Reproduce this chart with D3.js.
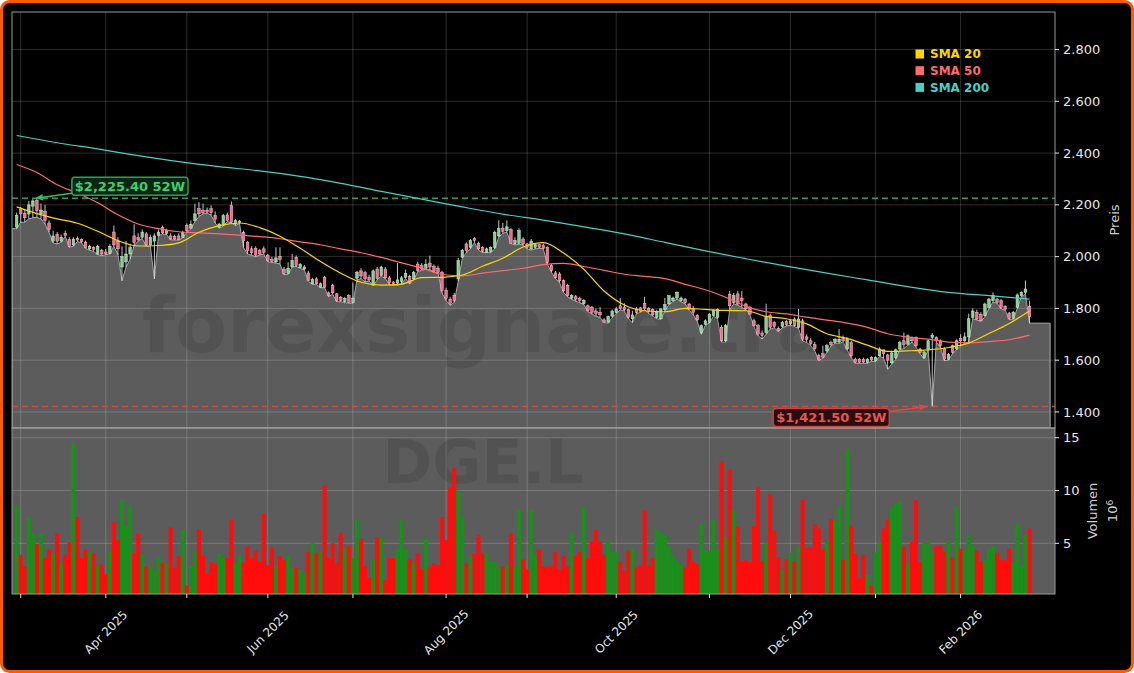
<!DOCTYPE html>
<meta charset="utf-8">
<script src="https://d3js.org/d3.v7.min.js"></script>
<style>
  body { margin: 0; background: #ffffff; }
  svg { display: block; font-family: "DejaVu Sans", sans-serif; }
</style>
<div id="chart"></div>
<script>

  // ---- data: one candle per trading day, index 0 = 28 Feb 2025 ----
  var opens = [
    2114,2182,2168,2165,2195,2217,2165,2175,2130,2060, 2085,2060,2090,2066,2045,2070,2066,2056,2030,2036,
    2010,2025,2018,2012,2095,2060,1960,1980,2010,2080, 2075,2075,2088,2045,2060,2082,2112,2090,2080,2078,
    2080,2075,2120,2110,2140,2185,2178,2180,2185,2160, 2114,2122,2161,2197,2126,2132,2094,2056,2030,2032,
    2023,2030,2004,1990,1980,2000,1952,1935,1960,1997, 1958,1952,1937,1895,1914,1882,1920,1860,1888,1856,
    1843,1826,1849,1823,1917,1945,1938,1920,1890,1952, 1927,1952,1918,1902,1898,1905,1920,1924,1914,1971,
    1965,1955,1975,1962,1955,1939,1870,1836,1850,1914, 1998,2049,2036,2070,2052,2036,2017,2020,2036,2080,
    2110,2100,2104,2050,2052,2068,2049,2030,2036,2046, 2043,2036,1965,1937,1933,1907,1888,1840,1845,1838,
    1818,1810,1804,1790,1785,1756,1747,1770,1785,1810, 1805,1795,1760,1798,1802,1820,1800,1795,1765,1760,
    1795,1817,1830,1840,1830,1836,1817,1800,1772,1707, 1739,1746,1772,1766,1727,1675,1855,1823,1856,1840,
    1817,1804,1752,1733,1705,1707,1772,1746,1723,1730, 1750,1740,1759,1727,1752,1690,1675,1660,1617,1625,
    1636,1668,1668,1670,1688,1643,1668,1604,1604,1603, 1591,1610,1598,1617,1640,1620,1590,1610,1643,1675,
    1662,1688,1688,1643,1610,1643,1688,1688,1675,1645, 1604,1656,1643,1685,1675,1690,1765,1785,1778,1772,
    1804,1830,1836,1830,1808,1782,1761,1804,1849,1862, 1808];
  var highs = [
    2170,2192,2180,2215,2222,2225.4,2205,2200,2140,2100, 2095,2085,2100,2075,2075,2078,2070,2062,2046,2040,
    2046,2030,2030,2048,2120,2075,2040,2060,2050,2125, 2090,2105,2095,2085,2090,2105,2120,2108,2090,2085,
    2090,2100,2128,2140,2204,2210,2205,2190,2198,2175, 2130,2165,2170,2213,2145,2142,2100,2060,2040,2040,
    2030,2040,2010,2000,2036,2036,1960,1978,2010,2005, 1975,1968,1945,1918,1920,1900,1925,1865,1895,1860,
    1848,1845,1855,1900,1945,1955,1945,1930,1950,1960, 1965,1960,1925,1905,1975,1925,1950,1930,1945,1980,
    1975,1990,2004,1970,1965,1945,1880,1845,1860,1995, 2030,2055,2068,2075,2058,2040,2035,2040,2100,2140,
    2130,2140,2110,2075,2110,2075,2052,2068,2050,2050, 2050,2040,1972,1945,1940,1912,1895,1855,1852,1845,
    1836,1815,1810,1800,1805,1762,1772,1795,1805,1840, 1820,1800,1790,1805,1805,1845,1805,1800,1795,1800,
    1840,1850,1845,1865,1846,1840,1820,1810,1778,1738, 1758,1782,1796,1800,1735,1740,1868,1860,1868,1868,
    1822,1810,1760,1740,1715,1818,1780,1750,1730,1752, 1755,1758,1765,1798,1760,1700,1685,1670,1625,1656,
    1662,1675,1685,1720,1695,1688,1675,1610,1608,1610, 1608,1615,1615,1650,1640,1625,1636,1645,1675,1707,
    1700,1692,1692,1648,1636,1680,1705,1692,1680,1650, 1628,1660,1680,1700,1707,1780,1800,1795,1785,1822,
    1840,1862,1840,1836,1812,1787,1790,1858,1866,1908, 1830];
  var lows = [
    2108,2133,2133,2146,2150,2152,2146,2126,2094,2053, 2049,2055,2079,2036,2040,2058,2054,2032,2025,2020,
    2008,2004,2008,2010,2040,2008,1907,1960,1990,2043, 2060,2070,2040,2040,1914,2080,2088,2085,2065,2064,
    2064,2072,2094,2107,2135,2155,2165,2168,2160,2130, 2110,2118,2136,2130,2120,2128,2035,2010,2005,2000,
    2006,2010,1980,1978,1975,1972,1930,1932,1960,1962, 1955,1948,1905,1893,1893,1880,1880,1845,1855,1826,
    1826,1822,1820,1820,1910,1915,1902,1906,1888,1910, 1925,1915,1890,1890,1890,1895,1915,1895,1910,1942,
    1948,1950,1950,1940,1936,1860,1830,1812,1823,1905, 1995,2015,2030,2055,2025,2016,2015,2015,2030,2075,
    2090,2095,2050,2045,2048,2045,2030,2025,2030,2032, 2030,1970,1940,1915,1900,1862,1845,1835,1828,1822,
    1815,1788,1778,1770,1765,1745,1743,1765,1780,1795, 1790,1760,1745,1780,1785,1795,1780,1770,1760,1757,
    1790,1815,1826,1836,1826,1818,1793,1775,1750,1700, 1735,1744,1770,1760,1670,1670,1795,1818,1812,1804,
    1795,1775,1730,1694,1682,1700,1720,1725,1710,1725, 1732,1735,1730,1722,1675,1668,1656,1636,1598,1608,
    1630,1655,1665,1665,1670,1640,1610,1588,1588,1588, 1588,1596,1594,1615,1608,1565,1585,1604,1640,1645,
    1658,1670,1650,1625,1605,1640,1421.5,1670,1650,1598, 1600,1625,1640,1655,1665,1670,1760,1755,1750,1768,
    1800,1825,1820,1798,1793,1757,1758,1800,1845,1855, 1743];
  var closes = [
    2160,2165,2150,2200,2215,2178,2180,2140,2105,2080, 2060,2075,2082,2040,2068,2064,2058,2036,2040,2028,
    2040,2010,2012,2040,2045,2030,2000,2010,2035,2055, 2065,2095,2045,2075,2080,2095,2092,2100,2068,2068,
    2066,2094,2101,2125,2165,2165,2170,2172,2170,2145, 2126,2158,2140,2133,2139,2137,2062,2023,2015,2006,
    2010,2017,1985,1982,1995,1990,1935,1955,1985,1965, 1970,1960,1907,1912,1895,1895,1882,1850,1860,1830,
    1830,1839,1823,1840,1940,1925,1914,1910,1945,1916, 1960,1918,1900,1896,1910,1918,1935,1898,1940,1946,
    1952,1970,1960,1943,1939,1870,1839,1820,1830,1985, 2024,2023,2062,2062,2030,2020,2030,2036,2094,2110,
    2098,2115,2052,2062,2100,2049,2036,2060,2046,2036, 2032,1978,1946,1920,1907,1868,1849,1850,1835,1830,
    1830,1791,1785,1780,1775,1747,1769,1790,1798,1800, 1795,1766,1775,1785,1789,1800,1789,1775,1785,1798,
    1815,1849,1840,1862,1840,1823,1798,1785,1756,1733, 1752,1778,1791,1796,1675,1733,1810,1849,1817,1830,
    1798,1778,1733,1701,1695,1765,1727,1730,1714,1746, 1737,1752,1733,1759,1681,1680,1665,1645,1604,1612,
    1656,1660,1681,1681,1675,1681,1617,1591,1592,1593, 1604,1601,1610,1643,1625,1600,1628,1640,1668,1660,
    1694,1675,1656,1630,1632,1675,1697,1675,1656,1604, 1623,1630,1675,1675,1690,1760,1790,1759,1752,1817,
    1836,1850,1823,1804,1797,1761,1785,1852,1862,1875, 1769];
  // volume in millions
  var volumes = [
    8.5,3.9,2.8,7.4,5.9,4.9,5.9,3.6,4.4,4.1, 5.9,3.1,3.9,5.1,14.5,7.5,3.6,4.4,4.2,4.0,
    2.9,3.0,2.1,4.2,7.0,5.3,9.2,6.7,8.6,4.1, 5.9,4.0,2.8,2.9,2.4,3.7,3.1,3.1,6.5,2.7,
    3.8,6.3,1.0,2.9,4.2,6.3,3.8,2.2,3.2,3.1, 4.1,3.6,3.6,7.2,3.1,3.9,3.2,4.7,3.6,4.3,
    3.3,7.8,2.9,4.6,2.8,3.8,3.4,3.8,2.6,2.7, 2.5,2.1,4.2,5.0,4.1,4.2,10.5,3.6,5.0,3.1,
    6.0,4.5,4.8,3.6,7.2,5.4,2.8,1.7,3.4,5.6, 5.5,1.5,3.6,3.6,4.4,7.2,4.4,3.5,3.1,4.0,
    2.6,5.5,2.7,3.1,2.9,7.5,5.3,10.3,12.1,10.0, 7.5,3.1,3.8,4.0,5.8,4.0,4.1,3.3,3.3,2.7,
    2.8,2.9,5.9,2.8,8.2,3.5,2.5,8.1,3.9,4.4, 2.8,2.8,2.8,4.2,2.5,3.8,2.8,6.0,3.8,4.2,
    8.5,3.6,5.2,6.3,5.2,3.9,5.1,4.2,4.2,3.2, 2.4,4.3,4.5,2.7,2.9,8.1,2.9,3.6,6.3,6.0,
    5.8,4.7,3.9,3.3,2.9,2.7,4.5,3.3,3.0,6.9, 4.3,4.3,7.2,4.4,12.8,5.6,12.0,8.1,6.6,3.3,
    3.4,3.2,6.6,10.3,3.3,5.0,9.6,6.2,3.7,2.5, 3.5,4.1,3.3,4.7,9.1,4.6,4.6,6.8,6.4,4.4,
    5.2,7.3,7.1,8.5,3.4,13.9,6.7,4.0,1.7,3.9, 2.0,1.0,4.1,5.0,6.4,7.2,8.3,8.7,9.0,4.7,
    3.1,5.1,9.1,3.2,5.0,5.1,4.2,4.8,4.8,4.2, 5.1,3.7,8.5,4.5,4.4,5.8,4.8,4.3,3.3,3.4,
    4.5,4.8,4.1,3.4,3.4,4.5,3.2,6.9,2.9,5.8, 6.4];

  // moving averages (every 5th / 10th day)
  var sma20Days = d3.range(0, 251, 5);
  var sma20 = [2192,2166,2146,2129,2098,2062,2041,2043,2053,2094,2120,2130,2112,2079,2032,1981,1936,
    1901,1890,1894,1919,1920,1929,1963,1994,2037,2054,2014,1951,1867,1813,1791,1787,1800,1796,1792,
    1791,1769,1760,1740,1702,1684,1658,1634,1636,1640,1649,1666,1703,1742,1790];
  var sma50Days = d3.range(0, 251, 5);
  var sma50 = [2356,2325,2278,2245,2208,2162,2126,2108,2096,2092,2088,2083,2077,2069,2057,2046,2030,
    2015,1997,1976,1956,1931,1926,1936,1946,1955,1969,1974,1962,1947,1932,1924,1915,1893,1872,1843,
    1808,1787,1779,1766,1755,1743,1727,1702,1689,1681,1670,1667,1672,1679,1697];
  var sma200Days = d3.range(0, 251, 10);
  var sma200 = [2468,2440,2416,2390,2367,2348,2331,2310,2283,2252,2222,2192,2164,2141,2115,2088,2055,
    2022,1992,1963,1936,1910,1884,1862,1849,1836];

  var monthTicks = [1, 22, 42, 62, 83, 106, 126, 148, 171, 191, 212, 233];
  var monthLabels = ["", "Apr 2025", "", "Jun 2025", "", "Aug 2025", "", "Oct 2025", "", "Dec 2025", "", "Feb 2026"];
  var priceTicks = [1400, 1600, 1800, 2000, 2200, 2400, 2600, 2800];
  var volTicks = [5, 10, 15];
  var high52 = { value: 2225.4, day: 5, label: "$2,225.40 52W" };
  var low52 = { value: 1421.5, day: 226, label: "$1,421.50 52W" };
  var legendItems = [
    { name: "SMA 20", color: "#ffd700" },
    { name: "SMA 50", color: "#ff6b6b" },
    { name: "SMA 200", color: "#4ecdc4" }
  ];

  // ---- layout ----
  var W = 1134, H = 673;
  var pL = 12, pR = 1055, pT = 12, pM = 428, pB = 594;

  var x = d3.scaleLinear().domain([-1.15, 256.3]).range([pL, pR]);
  var y = d3.scaleLinear().domain([1338, 2945]).range([pM, pT]);
  var yv = d3.scaleLinear().domain([0.2, 15.92]).range([pB, pM]);
  var step = x(1) - x(0);
  var fillEnd = 255.1;

  var fmt = d3.formatLocale({ decimal: ",", thousands: ".", grouping: [3], currency: ["", ""] }).format(",");

  var svg = d3.select("#chart").append("svg").attr("width", W).attr("height", H);

  // figure frame
  svg.append("rect").attr("x", 1.5).attr("y", 1.5).attr("width", W - 3).attr("height", H - 3)
    .attr("rx", 8).attr("fill", "#000").attr("stroke", "#ff5a00").attr("stroke-width", 3);

  var defs = svg.append("defs");
  defs.append("clipPath").attr("id", "clipPrice").append("rect")
    .attr("x", pL).attr("y", pT).attr("width", pR - pL).attr("height", pM - pT);
  defs.append("clipPath").attr("id", "clipVol").append("rect")
    .attr("x", pL).attr("y", pM).attr("width", pR - pL).attr("height", pB - pM);

  // ---- price panel ----
  var pg = svg.append("g").attr("clip-path", "url(#clipPrice)");

  var fillPts = [[x.domain()[0], lows[0]]]
    .concat(lows.map(function (d, i) { return [i, d]; }))
    .concat([[fillEnd, lows[lows.length - 1]]]);
  var area = d3.area().x(function (d) { return x(d[0]); }).y0(y.range()[0]).y1(function (d) { return y(d[1]); });
  pg.append("path").datum(fillPts).attr("d", area)
    .attr("fill", "#5c5c5c").attr("stroke", "#a8a8a8").attr("stroke-width", 1);

  // grid
  pg.selectAll(".hg").data(priceTicks).enter().append("line")
    .attr("x1", pL).attr("x2", pR).attr("y1", function (d) { return y(d); }).attr("y2", function (d) { return y(d); })
    .attr("stroke", "#fff").attr("stroke-opacity", 0.22).attr("stroke-width", 0.8);
  pg.selectAll(".vg").data(monthTicks).enter().append("line")
    .attr("x1", function (d) { return x(d); }).attr("x2", function (d) { return x(d); })
    .attr("y1", pT).attr("y2", pM)
    .attr("stroke", "#fff").attr("stroke-opacity", 0.22).attr("stroke-width", 0.8);

  // watermark
  pg.append("text").attr("x", 538).attr("y", 352).attr("text-anchor", "middle")
    .style("font-size", "76px").style("font-weight", "bold").attr("fill", "#000").attr("fill-opacity", 0.1)
    .text("forexsignale.trade");

  // 52 week lines
  pg.append("line").attr("x1", pL).attr("x2", pR).attr("y1", y(high52.value)).attr("y2", y(high52.value))
    .attr("stroke", "#2ca05a").attr("stroke-width", 1.5).attr("stroke-dasharray", "6,4");
  pg.append("line").attr("x1", pL).attr("x2", pR).attr("y1", y(low52.value)).attr("y2", y(low52.value))
    .attr("stroke", "#d64848").attr("stroke-width", 1.5).attr("stroke-dasharray", "6,4");

  // candles
  var candles = pg.selectAll(".candle").data(closes).enter().append("g");
  candles.append("line")
    .attr("x1", function (d, i) { return x(i); }).attr("x2", function (d, i) { return x(i); })
    .attr("y1", function (d, i) { return y(highs[i]); }).attr("y2", function (d, i) { return y(lows[i]); })
    .attr("stroke", "#dcdcdc").attr("stroke-width", 0.9);
  candles.append("rect")
    .attr("x", function (d, i) { return x(i) - step * 0.32; })
    .attr("width", step * 0.64)
    .attr("y", function (d, i) { return y(Math.max(opens[i], d)); })
    .attr("height", function (d, i) { return Math.max(1, Math.abs(y(opens[i]) - y(d))); })
    .attr("fill", function (d, i) { return d >= opens[i] ? "#86cf8f" : "#ee6a90"; })
    .attr("stroke", function (d, i) { return d >= opens[i] ? "#d4efd6" : "#ffc0d0"; })
    .attr("stroke-width", 0.5);

  // moving averages
  function smaLine(days, vals, color) {
    var line = d3.line().curve(d3.curveMonotoneX)
      .x(function (d, k) { return x(days[k]); })
      .y(function (d) { return y(d); });
    pg.append("path").datum(vals).attr("d", line)
      .attr("fill", "none").attr("stroke", color).attr("stroke-width", 1.2);
  }
  smaLine(sma200Days, sma200, "#4ecdc4");
  smaLine(sma50Days, sma50, "#ff6b6b");
  smaLine(sma20Days, sma20, "#ffd700");

  // ---- volume panel ----
  var vg = svg.append("g").attr("clip-path", "url(#clipVol)");
  vg.append("rect").attr("x", pL).attr("y", pM).attr("width", pR - pL).attr("height", pB - pM)
    .attr("fill", "#5c5c5c");
  vg.selectAll(".hg").data(volTicks).enter().append("line")
    .attr("x1", pL).attr("x2", pR).attr("y1", function (d) { return yv(d); }).attr("y2", function (d) { return yv(d); })
    .attr("stroke", "#fff").attr("stroke-opacity", 0.22).attr("stroke-width", 0.8);
  vg.selectAll(".vg").data(monthTicks).enter().append("line")
    .attr("x1", function (d) { return x(d); }).attr("x2", function (d) { return x(d); })
    .attr("y1", pM).attr("y2", pB)
    .attr("stroke", "#fff").attr("stroke-opacity", 0.22).attr("stroke-width", 0.8);
  vg.append("text").attr("x", 483).attr("y", 483).attr("text-anchor", "middle")
    .style("font-size", "60px").style("font-weight", "bold").attr("fill", "#000").attr("fill-opacity", 0.1)
    .text("DGE.L");
  vg.selectAll(".bar").data(volumes).enter().append("rect")
    .attr("x", function (d, i) { return x(i) - step / 2; })
    .attr("width", step)
    .attr("y", function (d) { return yv(d); })
    .attr("height", function (d) { return yv.range()[0] - yv(d); })
    .attr("fill", function (d, i) { return closes[i] >= opens[i] ? "#1b8f1b" : "#ff0d0d"; });

  // ---- spines ----
  var spine = "#9a9a9a";
  svg.append("rect").attr("x", pL).attr("y", pT).attr("width", pR - pL).attr("height", pM - pT)
    .attr("fill", "none").attr("stroke", spine).attr("stroke-width", 1);
  svg.append("rect").attr("x", pL).attr("y", pM).attr("width", pR - pL).attr("height", pB - pM)
    .attr("fill", "none").attr("stroke", spine).attr("stroke-width", 1);

  // ---- axes ----
  var axisColor = "#e6e6e6";
  var pa = svg.append("g");
  priceTicks.forEach(function (t) {
    pa.append("line").attr("x1", pR).attr("x2", pR + 4).attr("y1", y(t)).attr("y2", y(t)).attr("stroke", axisColor);
    pa.append("text").attr("x", pR + 8).attr("y", y(t)).attr("dy", "0.35em")
      .style("font-size", "13px").attr("fill", axisColor).text(fmt(t));
  });
  volTicks.forEach(function (t) {
    pa.append("line").attr("x1", pR).attr("x2", pR + 4).attr("y1", yv(t)).attr("y2", yv(t)).attr("stroke", axisColor);
    pa.append("text").attr("x", pR + 8).attr("y", yv(t)).attr("dy", "0.35em")
      .style("font-size", "13px").attr("fill", axisColor).text(t);
  });
  monthTicks.forEach(function (t, k) {
    pa.append("line").attr("x1", x(t)).attr("x2", x(t)).attr("y1", pB).attr("y2", pB + 4).attr("stroke", axisColor);
    if (monthLabels[k]) {
      pa.append("text").attr("transform", "translate(" + x(t) + "," + (pB + 38) + ") rotate(-45)")
        .attr("text-anchor", "middle").attr("dy", "0.35em")
        .style("font-size", "12px").attr("fill", axisColor).text(monthLabels[k]);
    }
  });

  // axis titles
  svg.append("text").attr("transform", "translate(1119," + ((pT + pM) / 2) + ") rotate(-90)")
    .attr("text-anchor", "middle").style("font-size", "13px").attr("fill", "#cfcfcf").text("Preis");
  svg.append("text").attr("transform", "translate(1097," + ((pM + pB) / 2) + ") rotate(-90)")
    .attr("text-anchor", "middle").style("font-size", "13px").attr("fill", "#cfcfcf").text("Volumen");
  var pow = svg.append("text").attr("transform", "translate(1117," + ((pM + pB) / 2) + ") rotate(-90)")
    .attr("text-anchor", "middle").style("font-size", "13px").attr("fill", "#cfcfcf");
  pow.append("tspan").text("10");
  pow.append("tspan").attr("dy", "-0.45em").style("font-size", "9px").text("6");

  // ---- legend ----
  legendItems.forEach(function (d, k) {
    var ly = 54 + k * 16.7;
    svg.append("rect").attr("x", 915.5).attr("y", ly - 4.5).attr("width", 8.5).attr("height", 9).attr("fill", d.color);
    svg.append("text").attr("x", 930).attr("y", ly).attr("dy", "0.35em")
      .style("font-size", "12px").style("font-weight", "bold").attr("fill", d.color).text(d.name);
  });

  // ---- 52 week annotations ----
  function arrow(x1, y1, x2, y2, color) {
    var a = Math.atan2(y2 - y1, x2 - x1), hl = 8, hw = 3.2;
    var bx = x2 - hl * Math.cos(a), by = y2 - hl * Math.sin(a);
    svg.append("line").attr("x1", x1).attr("y1", y1).attr("x2", bx).attr("y2", by)
      .attr("stroke", color).attr("stroke-width", 1.5);
    svg.append("path").attr("fill", color)
      .attr("d", "M" + x2 + "," + y2 + "L" + (bx - hw * Math.sin(a)) + "," + (by + hw * Math.cos(a)) +
        "L" + (bx + hw * Math.sin(a)) + "," + (by - hw * Math.cos(a)) + "Z");
  }
  function badge(cx, cy, label, stroke, fill, color) {
    var g = svg.append("g");
    var r = g.append("rect");
    var t = g.append("text").attr("x", cx).attr("y", cy).attr("dy", "0.36em").attr("text-anchor", "middle")
      .style("font-size", "13px").style("font-weight", "bold").attr("fill", color).text(label);
    var w = t.node().getComputedTextLength() + 6;
    r.attr("x", cx - w / 2).attr("y", cy - 9).attr("width", w).attr("height", 18).attr("rx", 3)
      .attr("fill", fill).attr("stroke", stroke).attr("stroke-width", 1.5);
    return { left: cx - w / 2, right: cx + w / 2 };
  }
  var hx = x(high52.day), hy = y(high52.value);
  var hb = badge(hx + 93, hy - 12, high52.label, "#2ca05a", "#0c2414", "#3ecf6e");
  arrow(hb.left, hy - 5, hx - 2, hy, "#2fbf62");

  var lx = x(low52.day), ly = y(low52.value);
  var lb = badge(lx - 101, ly + 11, low52.label, "#c84646", "#2a0c0c", "#e85555");
  arrow(lb.right, ly + 5, lx - 5, ly, "#e04848");

</script>
